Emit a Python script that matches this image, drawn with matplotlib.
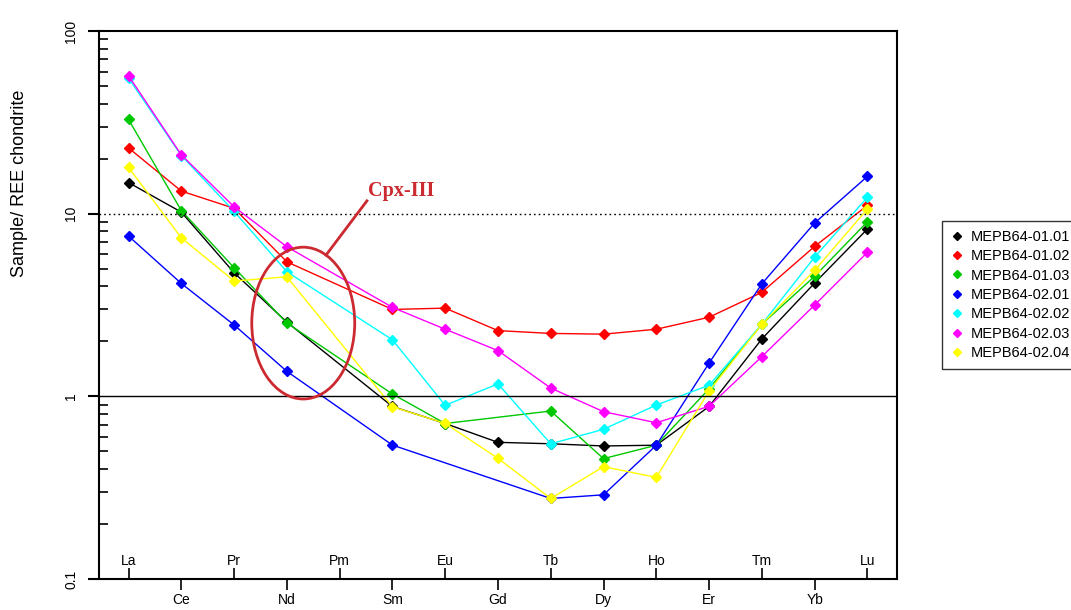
import numpy as np
import matplotlib
matplotlib.use("Agg")
import matplotlib.pyplot as plt
from matplotlib.patches import Ellipse
from matplotlib.ticker import FixedLocator, LogLocator, NullFormatter

plt.rcParams['font.family'] = ['Liberation Sans', 'DejaVu Sans']

# REE order (Pm has no analyses)
elements = ['La', 'Ce', 'Pr', 'Nd', 'Pm', 'Sm', 'Eu', 'Gd',
            'Tb', 'Dy', 'Ho', 'Er', 'Tm', 'Yb', 'Lu']

nan = np.nan
# chondrite-normalised values
mepb64_01_01 = [14.8, 10.2, 4.75, 2.55, nan, 0.88, 0.71, 0.56, 0.55, 0.535, 0.54, 0.88, 2.06, 4.17, 8.24]
mepb64_01_02 = [22.9, 13.3, 10.7, 5.45, nan, 2.99, 3.04, 2.29, 2.21, 2.19, 2.33, 2.71, 3.71, 6.62, 11.1]
mepb64_01_03 = [32.8, 10.4, 5.06, 2.52, nan, 1.03, 0.71, nan, 0.831, 0.456, 0.54, 1.1, 2.48, 4.54, 9.03]
mepb64_02_01 = [7.54, 4.15, 2.46, 1.37, nan, 0.541, nan, nan, 0.276, 0.289, 0.54, 1.52, 4.13, 8.89, 16.0]
mepb64_02_02 = [55.2, 20.8, 10.3, 4.81, nan, 2.04, 0.893, 1.17, 0.55, 0.66, 0.896, 1.15, 2.48, 5.78, 12.3]
mepb64_02_03 = [56.9, 21.0, 10.9, 6.59, nan, 3.07, 2.33, 1.78, 1.11, 0.824, 0.717, 0.882, 1.65, 3.16, 6.14]
mepb64_02_04 = [17.9, 7.38, 4.28, 4.51, nan, 0.877, 0.711, 0.458, 0.276, 0.412, 0.36, 1.07, 2.48, 4.89, 10.6]

samples = ['MEPB64-01.01', 'MEPB64-01.02', 'MEPB64-01.03', 'MEPB64-02.01',
           'MEPB64-02.02', 'MEPB64-02.03', 'MEPB64-02.04']
values = [mepb64_01_01, mepb64_01_02, mepb64_01_03, mepb64_02_01,
          mepb64_02_02, mepb64_02_03, mepb64_02_04]
colors = ['#000000', '#ff0000', '#00c800', '#0000ff', '#00ffff', '#ff00ff', '#ffff00']

fig = plt.figure(figsize=(10.71, 6.10), dpi=100)
ax = fig.add_axes([0.0924, 0.0508, 0.7451, 0.8984])

x = np.arange(1, len(elements) + 1)
for name, vals, col in zip(samples, values, colors):
    v = np.array(vals, dtype=float)
    ok = ~np.isnan(v)
    ax.plot(x[ok], v[ok], color=col, lw=1.0, marker='D', ms=5,
            mec=col, mfc=col, label=name)

ax.axhline(10, color='black', lw=1.0, ls=(0, (1.2, 2.2)))
ax.axhline(1, color='black', lw=1.0)

ax.set_yscale('log')
ax.set_ylim(0.1, 100)
ax.set_xlim(0.44, 15.56)

# y axis
ax.yaxis.set_major_locator(FixedLocator([0.1, 1, 10, 100]))
ax.set_yticklabels(['0.1', '1', '10', '100'], rotation=90, va='center')
ax.yaxis.set_minor_locator(LogLocator(base=10, subs=np.arange(2, 10)))
ax.yaxis.set_minor_formatter(NullFormatter())
ax.tick_params(axis='y', which='major', direction='out', length=8, width=1.5,
               labelsize=10, pad=7)
ax.tick_params(axis='y', which='minor', direction='in', length=6.5, width=1.2)
ax.set_ylabel('Sample/ REE chondrite', fontsize=13)
ax.yaxis.set_label_coords(-0.089, 0.7226)

# x axis: even elements below (ticks out), odd ones inside (ticks in)
ax.set_xticks(x[1::2])
ax.set_xticklabels(elements[1::2])
ax.set_xticks(x[0::2], minor=True)
ax.tick_params(axis='x', which='major', direction='out', length=8, width=1.2,
               labelsize=10, pad=2)
ax.tick_params(axis='x', which='minor', direction='in', length=8, width=1.2)
for xi, el in zip(x[0::2], elements[0::2]):
    ax.text(xi, 0.026, el, transform=ax.get_xaxis_transform(),
            ha='center', va='baseline', fontsize=10)

for s in ax.spines.values():
    s.set_linewidth(1.5)

# Cpx-III annotation
red = '#cc2a30'
ax.add_patch(Ellipse((0.256, 0.467), 0.129, 0.277, transform=ax.transAxes,
                     fill=False, ec=red, lw=2.0, zorder=5))
ax.plot([0.2845, 0.3358], [0.591, 0.690], transform=ax.transAxes,
        color=red, lw=2.0)
ax.text(0.337, 0.708, 'Cpx-III', transform=ax.transAxes, color=red,
        fontsize=14.5, fontweight='bold', family='Liberation Serif',
        ha='left', va='center')

leg = ax.legend(loc='upper left', bbox_to_anchor=(0.8796, 0.6377),
                bbox_transform=fig.transFigure, borderaxespad=0,
                fontsize=10.5, frameon=True, fancybox=False,
                handlelength=0.8, handletextpad=0.6, labelspacing=0.37,
                borderpad=0.6, markerscale=0.8)
leg.get_frame().set_edgecolor('black')
leg.get_frame().set_linewidth(1.0)
for h in leg.legend_handles:
    h.set_linestyle('none')

fig.savefig('out.png', dpi=100)
